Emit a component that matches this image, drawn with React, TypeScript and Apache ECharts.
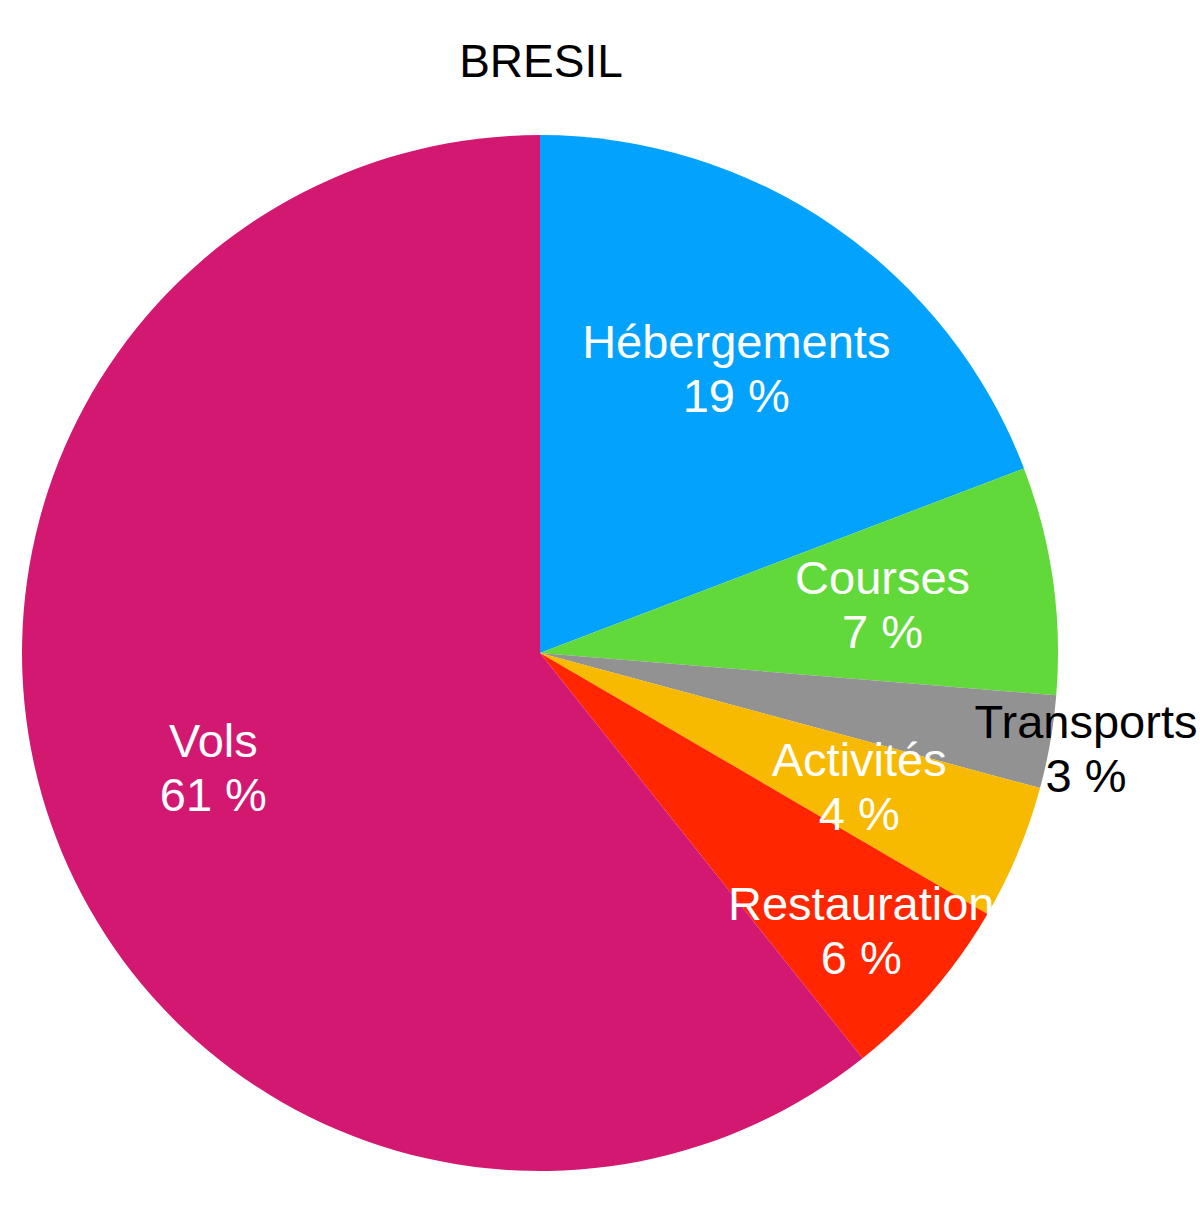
import React, { useEffect, useRef } from "react";
import * as echarts from "echarts";

const TITLE = "BRESIL";
const categories = ["Hébergements", "Courses", "Transports", "Activités", "Restauration", "Vols"];
const values = [19.2, 7.1, 2.9, 4.2, 5.9, 60.7];

const colors = ["#03A2FD", "#62D93A", "#929292", "#F7BA00", "#FF2600", "#D31872"];
const labelColors = ["#ffffff", "#ffffff", "#000000", "#ffffff", "#ffffff", "#ffffff"];
// label distance from centre as fraction of the radius
const labelRadius = [0.668, 0.668, 1.07, 0.668, 0.82, 0.668];

const CX = 540;
const CY = 653;
const R = 518;
const FONT = "'Liberation Sans', Arial, Helvetica, sans-serif";

export default function App() {
  const ref = useRef<HTMLDivElement>(null);
  useEffect(() => {
    if (!ref.current) return;
    const chart = echarts.init(ref.current, null, { renderer: "svg" });
    const total = values.reduce((a, b) => a + b, 0);
    const mids: number[] = [];
    let acc = 0;
    values.forEach((v) => {
      const a0 = (acc / total) * Math.PI * 2;
      acc += v;
      const a1 = (acc / total) * Math.PI * 2;
      mids.push((a0 + a1) / 2);
    });
    chart.setOption({
      animation: false,
      backgroundColor: "#ffffff",
      title: {
        text: TITLE,
        left: 536,
        top: 33,
        textAlign: "center",
        textStyle: { fontFamily: FONT, fontSize: 46, fontWeight: "normal", color: "#000" },
      },
      series: [
        {
          type: "pie",
          center: [CX, CY],
          radius: [0, R],
          startAngle: 90,
          clockwise: true,
          percentPrecision: 0,
          avoidLabelOverlap: false,
          itemStyle: { borderWidth: 0 },
          emphasis: { disabled: true },
          labelLine: { show: false },
          label: {
            show: true,
            position: "inside",
            formatter: "{b}\n{d} %",
            fontFamily: FONT,
            fontSize: 47,
            lineHeight: 54,
            align: "center",
            verticalAlign: "middle",
          },
          labelLayout: (p: any) => {
            const i = p.dataIndex;
            const r = R * labelRadius[i];
            return {
              x: CX + r * Math.sin(mids[i]),
              y: CY - r * Math.cos(mids[i]),
              align: "center",
              verticalAlign: "middle",
            };
          },
          data: categories.map((name, i) => ({
            name,
            value: values[i],
            itemStyle: { color: colors[i] },
            label: { color: labelColors[i] },
          })),
        },
      ],
    });
    return () => chart.dispose();
  }, []);
  return (
    <div
      ref={ref}
      style={{ position: "fixed", left: 0, top: 0, width: 1200, height: 1226, background: "#fff" }}
    />
  );
}
